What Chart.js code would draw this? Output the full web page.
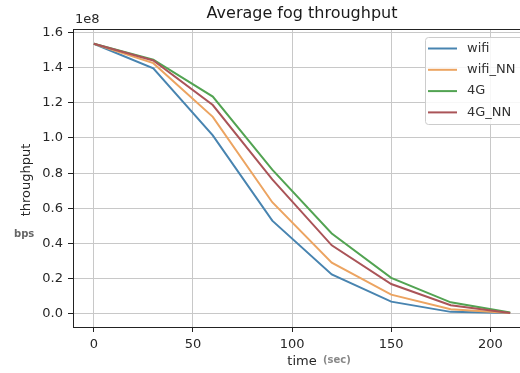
<!DOCTYPE html>
<html>
<head>
<meta charset="utf-8">
<script src="https://cdn.jsdelivr.net/npm/chart.js@4.4.0/dist/chart.umd.min.js"></script>
<style>
  html, body { margin: 0; padding: 0; background: #fff; overflow: hidden; width: 520px; height: 373px; }
  canvas { display: block; }
</style>
</head>
<body>
<canvas id="c" width="540" height="373"></canvas>
<script>
// Sample times (seconds) and average throughput per series, in units of 1e8 bps
const timeSec = [0, 30, 60, 90, 120, 150, 180, 210];
const seriesNames = ['wifi', 'wifi_NN', '4G', '4G_NN'];
const wifi   = [1.535, 1.395, 1.015, 0.530, 0.225, 0.070, 0.012, 0.005];
const wifiNN = [1.535, 1.425, 1.120, 0.635, 0.292, 0.110, 0.027, 0.005];
const g4     = [1.535, 1.445, 1.235, 0.820, 0.457, 0.205, 0.066, 0.008];
const g4NN   = [1.535, 1.440, 1.187, 0.765, 0.390, 0.170, 0.050, 0.006];
const seriesValues = [wifi, wifiNN, g4, g4NN];
const seriesColors = ['#4884b0', '#eca461', '#52a352', '#aa5458'];

const xTicks = [0, 50, 100, 150, 200];
const xTickLabels = ['0', '50', '100', '150', '200'];
const yTicks = [0, 0.2, 0.4, 0.6, 0.8, 1.0, 1.2, 1.4, 1.6];
const yTickLabels = ['0.0', '0.2', '0.4', '0.6', '0.8', '1.0', '1.2', '1.4', '1.6'];

const FONT = "'DejaVu Sans', 'Liberation Sans', sans-serif";
const CANVAS_H = 373;

const datasets = seriesNames.map((name, i) => ({
  label: name,
  data: timeSec.map((t, k) => ({ x: t, y: seriesValues[i][k] })),
  borderColor: seriesColors[i],
  backgroundColor: seriesColors[i],
  borderWidth: 2,
  pointRadius: 0,
  tension: 0,
  fill: false,
  order: seriesNames.length - i   // later series drawn on top
}));

// Frame, title, axis labels and the boxed legend inside the plot
const decorations = {
  id: 'decorations',
  afterDatasetsDraw(chart) {
    const { ctx, chartArea: a } = chart;
    ctx.save();
    // spines
    ctx.strokeStyle = '#222';
    ctx.lineWidth = 1;
    ctx.strokeRect(Math.round(a.left) + 0.5, Math.round(a.top) + 0.5,
                   Math.round(a.right - a.left), Math.round(a.bottom - a.top));

    // legend
    const lx = a.right - 106, ly = a.top + 8, lw = 100, lh = 87;
    ctx.beginPath();
    ctx.roundRect(lx + 0.5, ly + 0.5, lw, lh, 3);
    ctx.fillStyle = 'rgba(255,255,255,0.85)';
    ctx.fill();
    ctx.strokeStyle = '#cccccc';
    ctx.stroke();
    ctx.font = '13px ' + FONT;
    ctx.textBaseline = 'middle';
    ctx.textAlign = 'left';
    chart.data.datasets.forEach((ds, i) => {
      const y = ly + 11.5 + i * 21.3;
      ctx.strokeStyle = ds.borderColor;
      ctx.lineWidth = 2;
      ctx.beginPath();
      ctx.moveTo(lx + 3, y);
      ctx.lineTo(lx + 32, y);
      ctx.stroke();
      ctx.fillStyle = '#333';
      ctx.fillText(ds.label, lx + 42, y);
    });

    const cx = (a.left + a.right) / 2;
    // title
    ctx.fillStyle = '#1a1a1a';
    ctx.font = '16px ' + FONT;
    ctx.textAlign = 'center';
    ctx.fillText('Average fog throughput', cx, 14);

    // offset text for the y axis
    ctx.font = '13px ' + FONT;
    ctx.fillStyle = '#262626';
    ctx.textAlign = 'left';
    ctx.fillText('1e8', a.left + 2, 20);

    // x label
    ctx.textAlign = 'center';
    ctx.fillText('time', cx, 362);
    ctx.font = 'bold 10px ' + FONT;
    ctx.fillStyle = '#888';
    ctx.textAlign = 'left';
    ctx.fillText('(sec)', 323, 360);

    // y label
    ctx.save();
    ctx.translate(27, (a.top + a.bottom) / 2 + 2);
    ctx.rotate(-Math.PI / 2);
    ctx.font = '13px ' + FONT;
    ctx.fillStyle = '#262626';
    ctx.textAlign = 'center';
    ctx.fillText('throughput', 0, 0);
    ctx.restore();
    ctx.font = 'bold 10px ' + FONT;
    ctx.fillStyle = '#666';
    ctx.textAlign = 'left';
    ctx.fillText('bps', 14, 234);
    ctx.restore();
  }
};

new Chart(document.getElementById('c'), {
  type: 'line',
  data: { datasets },
  options: {
    responsive: false,
    animation: false,
    devicePixelRatio: 1,
    layout: { padding: { top: 29, right: 9, left: 0, bottom: 0 } },
    plugins: { legend: { display: false }, tooltip: { enabled: false }, title: { display: false } },
    scales: {
      x: {
        type: 'linear',
        min: -10.5,
        max: 220.5,
        afterBuildTicks: s => { s.ticks = xTicks.map(v => ({ value: v })); },
        afterFit: s => { s.height = CANVAS_H - 327; },
        ticks: {
          callback: v => xTickLabels[xTicks.indexOf(v)],
          color: '#262626',
          font: { family: FONT, size: 13 },
          padding: 5,
          maxRotation: 0
        },
        grid: { color: '#c8c8c8', lineWidth: 1, tickColor: '#222', tickLength: 5 },
        border: { display: false }
      },
      y: {
        type: 'linear',
        min: -0.074,
        max: 1.619,
        afterBuildTicks: s => { s.ticks = yTicks.map(v => ({ value: v })); },
        afterFit: s => { s.width = 73; },
        ticks: {
          callback: v => yTickLabels[yTicks.findIndex(t => Math.abs(t - v) < 1e-9)],
          color: '#262626',
          font: { family: FONT, size: 13 },
          padding: 5
        },
        grid: { color: '#c8c8c8', lineWidth: 1, tickColor: '#222', tickLength: 5 },
        border: { display: false }
      }
    }
  },
  plugins: [decorations]
});
</script>
</body>
</html>
